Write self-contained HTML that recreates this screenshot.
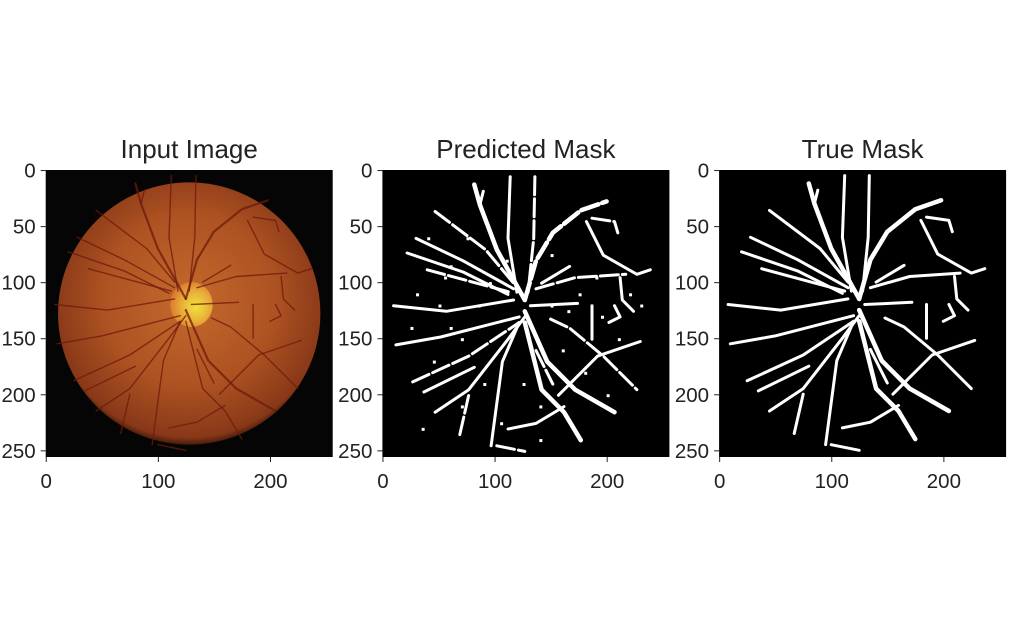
<!DOCTYPE html>
<html><head><meta charset="utf-8"><style>
html,body{margin:0;padding:0;background:#fff;}
svg{display:block;font-family:"Liberation Sans","DejaVu Sans",sans-serif;}
</style></head><body>
<svg id="fig" width="1024" height="631" viewBox="0 0 1024 631" xmlns="http://www.w3.org/2000/svg">
<defs>
<radialGradient id="fundusGrad" cx="0.5" cy="0.45" r="0.55">
<stop offset="0" stop-color="#c46a2c"/>
<stop offset="0.6" stop-color="#ad5222"/>
<stop offset="0.95" stop-color="#883818"/>
<stop offset="1" stop-color="#4a1c0c"/>
</radialGradient>
<radialGradient id="discGrad" cx="0.6" cy="0.55" r="0.6">
<stop offset="0" stop-color="#f2e23a"/>
<stop offset="0.55" stop-color="#e8b03a"/>
<stop offset="1" stop-color="#dc7a2c"/>
</radialGradient>
</defs>
</svg>
<script>
const titles = ["Input Image", "Predicted Mask", "True Mask"];
const yTicks = [0, 50, 100, 150, 200, 250];
const xTicks = [0, 100, 200];
const imgSize = 256;
const vessels = [
 [[125,115],[135,80],[150,55],[175,35],[198,27]],
 [[125,115],[100,70],[85,30],[80,12]],
 [[85,30],[88,18]],
 [[45,36],[90,70],[115,100]],
 [[28,60],[70,80],[115,105]],
 [[20,73],[70,90],[110,110]],
 [[38,88],[75,98],[112,108]],
 [[8,120],[55,125],[115,115]],
 [[10,155],[50,148],[120,130]],
 [[25,188],[75,165],[120,135]],
 [[35,197],[80,175]],
 [[45,215],[75,195],[110,150],[125,130]],
 [[67,235],[75,200]],
 [[95,245],[105,170],[120,135]],
 [[112,5],[110,60],[118,108]],
 [[134,5],[133,60],[128,108]],
 [[125,125],[145,170],[170,195],[205,215]],
 [[125,135],[140,195],[160,215],[175,240]],
 [[148,132],[165,140],[195,165],[225,195]],
 [[155,200],[190,165],[228,152]],
 [[180,45],[195,75],[225,92],[237,88]],
 [[135,105],[170,95],[215,92]],
 [[130,120],[172,118]],
 [[110,230],[135,225],[160,210]],
 [[185,42],[205,45],[208,55]],
 [[210,95],[212,115],[222,125]],
 [[140,100],[165,85]],
 [[135,160],[150,190]],
 [[185,120],[185,150]],
 [[200,135],[210,130],[205,120]],
 [[100,245],[125,250]]
];
const speckles = [[40,60],[55,95],[30,110],[60,140],[45,170],[70,150],[85,120],[60,85],[90,190],[35,230],[150,75],[175,110],[195,130],[210,150],[160,160],[180,180],[140,210],[200,200],[220,110],[95,100],[75,60],[105,225],[125,190],[165,125],[230,120],[25,140],[50,120],[110,80],[140,240],[190,95],[70,210],[150,120]];
const svg = document.getElementById('fig');
const NS = "http://www.w3.org/2000/svg";
const panelLeft = [45.7, 382.4, 719.1];
const top0 = 170, side = 287;
function mk(tag, attrs, parent){const e=document.createElementNS(NS,tag);for(const k in attrs)e.setAttribute(k,attrs[k]);parent.appendChild(e);return e;}
function pathD(pts, sx, sy, dx, dy){return pts.map((p,i)=>(i?'L':'M')+sx(p[0]+(dx||0)).toFixed(1)+' '+sy(p[1]+(dy||0)).toFixed(1)).join(' ');}
titles.forEach((t, pi) => {
  const L = panelLeft[pi];
  const sx = v => L + v / imgSize * side;
  const sy = v => top0 + v / imgSize * side;
  const g = mk('g', {}, svg);
  
  
  const bg = mk('rect', {x:L, y:top0, width:side, height:side, fill: pi===0 ? '#050505' : '#000'}, g);
  
  
  if (pi === 0) {
    const c = mk('circle', {cx:sx(128), cy:sy(128), r:117/imgSize*side, fill:'url(#fundusGrad)'}, g);
    
    
    const d = mk('ellipse', {cx:sx(130), cy:sy(120), rx:19/imgSize*side, ry:20/imgSize*side, fill:'url(#discGrad)'}, g);
    
    
    vessels.forEach((v, vi) => {
      const p = mk('path', {d:pathD(v,sx,sy), fill:'none', stroke:'#6e1a0c', 'stroke-width': vi<2||vi===16?2.2:1.4, 'stroke-opacity':0.75, 'stroke-linecap':'round', 'stroke-linejoin':'round'}, g);
      
      
    });
  } else {
    const pred = pi === 1;
    vessels.forEach((v, vi) => {
      const p = mk('path', {d:pathD(v,sx,sy, pred?2:0, pred?1:0), fill:'none', stroke:'#fff', 'stroke-width': (vi<2||vi===16||vi===17)?4.5:3, 'stroke-linecap':'round', 'stroke-linejoin':'round', 'stroke-dasharray': pred && vi%3===0 ? '18 4' : 'none'}, g);
      
      
    });
    if (pred) speckles.forEach(s => {
      const r = mk('rect', {x:sx(s[0]), y:sy(s[1]), width:3, height:3, fill:'#fff'}, g);
      
      
    });
  }
  const title = mk('text', {x:L+side/2, y:158, 'text-anchor':'middle', 'font-size':26, fill:'#222'}, g);
  title.textContent = t;
  
  
  yTicks.forEach(v => {
    const y = sy(v + 0.5);
    mk('line', {x1:L-5, x2:L, y1:y, y2:y, stroke:'#222', 'stroke-width':1}, g);
    const tx = mk('text', {x:L-10, y:y+7, 'text-anchor':'end', 'font-size':20.5, fill:'#222'}, g);
    tx.textContent = v;
    
    
  });
  xTicks.forEach(v => {
    const x = sx(v + 0.5);
    mk('line', {x1:x, x2:x, y1:top0+side, y2:top0+side+5, stroke:'#222', 'stroke-width':1}, g);
    const tx = mk('text', {x:x, y:top0+side+31, 'text-anchor':'middle', 'font-size':20.5, fill:'#222'}, g);
    tx.textContent = v;
    
    
  });
});
</script>
</body></html>
